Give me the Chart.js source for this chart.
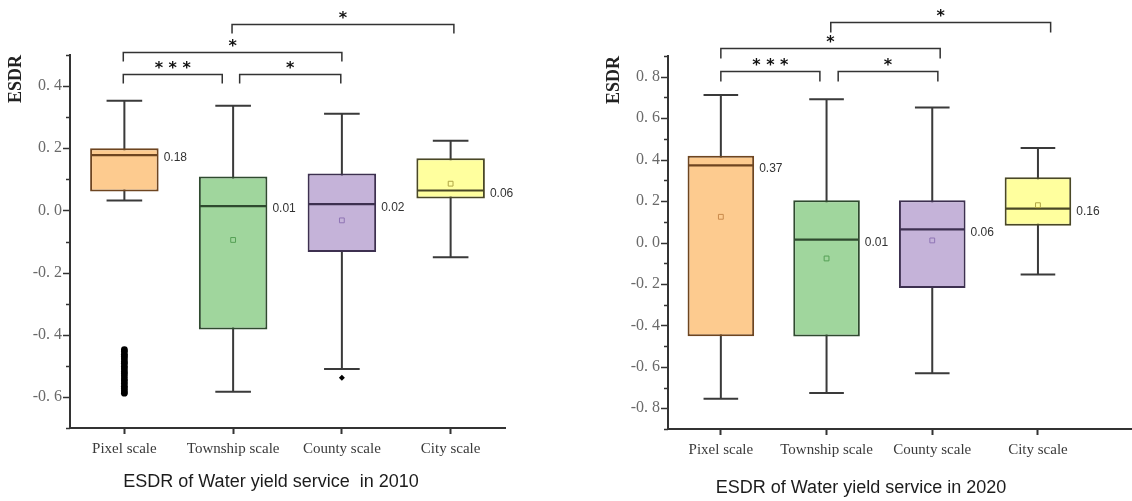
<!DOCTYPE html>
<html>
<head>
<meta charset="utf-8">
<title>ESDR of Water yield service</title>
<script src="https://cdn.jsdelivr.net/npm/chart.js@4.4.1/dist/chart.umd.min.js"></script>
<style>
  html, body { margin: 0; padding: 0; background: #fff; width: 1132px; height: 501px; overflow: hidden; }
  .panel { position: absolute; top: 0; }
  #p2010 { left: 0; }
  #p2020 { left: 570px; }
</style>
</head>
<body>
<div class="panel" id="p2010"><canvas id="c2010" width="565" height="501"></canvas></div>
<div class="panel" id="p2020"><canvas id="c2020" width="640" height="501"></canvas></div>
<script>
// ---- data ----
const categories = ['Pixel scale', 'Township scale', 'County scale', 'City scale'];

// 2010 box statistics per category
const min2010    = [0.032, -0.583, -0.510, -0.151];
const q1_2010    = [0.061, -0.383, -0.134,  0.038];
const median2010 = [0.178,  0.014,  0.020,  0.064];
const q3_2010    = [0.200,  0.109,  0.119,  0.168];
const max2010    = [0.353,  0.337,  0.311,  0.224];
const mean2010   = [null,  -0.095, -0.032,  0.086];
const pixelOutliers2010  = [-0.448, -0.454, -0.463, -0.469, -0.477, -0.486, -0.492, -0.501, -0.509,
                            -0.518, -0.525, -0.533, -0.542, -0.549, -0.557, -0.566, -0.573, -0.581, -0.588];
const countyOutliers2010 = [-0.538];

// 2020 box statistics per category
const min2020    = [-0.754, -0.726, -0.631, -0.155];
const q1_2020    = [-0.453, -0.454, -0.219,  0.081];
const median2020 = [ 0.372,  0.014,  0.063,  0.163];
const q3_2020    = [ 0.419,  0.204,  0.204,  0.315];
const max2020    = [ 0.712,  0.691,  0.652,  0.456];
const mean2020   = [ 0.124, -0.077,  0.010,  0.180];

// significance comparisons: [from category, to category, stars]
const comparisons = [[0, 1, '***'], [1, 2, '*'], [0, 2, '*'], [1, 3, '*']];

// ---- styling ----
const fills      = ['#FDCB8F', '#A0D69D', '#C5B3D9', '#FFFF9E'];
const edges      = ['#6E4520', '#2F4A2F', '#3D3050', '#4A4826'];
const meanColors = ['#C98A4C', '#55A055', '#8F75B5', '#B0A645'];
const AXIS = '#333333';
const SERIF = '"Liberation Serif", "Times New Roman", serif';
const SANS = '"Liberation Sans", Arial, sans-serif';

function tickLabel(value) {
  const v = Math.round(value * 10);
  if (v % 2 !== 0) return '';
  return (v / 10).toFixed(1).replace('.', '. ');
}

// whiskers behind the boxes, medians + value labels on top of them
function boxPartsPlugin(stats) {
  return {
    id: 'boxParts',
    beforeDatasetsDraw(chart) {
      const { ctx } = chart;
      const y = chart.scales.y;
      const meta = chart.getDatasetMeta(stats.barIndex);
      ctx.save();
      ctx.strokeStyle = '#3a3a3a';
      ctx.lineWidth = 2;
      meta.data.forEach((bar, i) => {
        const x = bar.x;
        const cap = bar.width * 0.26;
        const yMin = y.getPixelForValue(stats.min[i]);
        const yMax = y.getPixelForValue(stats.max[i]);
        ctx.beginPath();
        ctx.moveTo(x, yMin); ctx.lineTo(x, yMax);
        ctx.moveTo(x - cap, yMin); ctx.lineTo(x + cap, yMin);
        ctx.moveTo(x - cap, yMax); ctx.lineTo(x + cap, yMax);
        ctx.stroke();
      });
      ctx.restore();
    },
    afterDatasetDraw(chart, args) {
      if (args.index !== stats.barIndex) return;
      const { ctx } = chart;
      const y = chart.scales.y;
      ctx.save();
      args.meta.data.forEach((bar, i) => {
        const half = bar.width / 2;
        const ym = y.getPixelForValue(stats.median[i]);
        ctx.strokeStyle = edges[i];
        ctx.lineWidth = 2.2;
        ctx.beginPath();
        ctx.moveTo(bar.x - half + 1, ym);
        ctx.lineTo(bar.x + half - 1, ym);
        ctx.stroke();
        ctx.fillStyle = '#333';
        ctx.font = '12px "Liberation Sans Narrow", ' + SANS;
        ctx.textAlign = 'left';
        ctx.textBaseline = 'middle';
        ctx.fillText(stats.median[i].toFixed(2), bar.x + half + 5, ym + 3);
      });
      ctx.restore();
    }
  };
}

// major / minor tick marks on the value axis
const yTickMarks = {
  id: 'yTickMarks',
  afterDraw(chart) {
    const { ctx, chartArea } = chart;
    const y = chart.scales.y;
    ctx.save();
    ctx.strokeStyle = AXIS;
    ctx.lineWidth = 1.5;
    y.ticks.forEach(t => {
      const py = Math.round(y.getPixelForValue(t.value)) + 0.5;
      const len = Math.round(t.value * 10) % 2 === 0 ? 7 : 4;
      ctx.beginPath();
      ctx.moveTo(chartArea.left - len, py);
      ctx.lineTo(chartArea.left, py);
      ctx.stroke();
    });
    ctx.restore();
  }
};

// significance brackets above the boxes
function bracketPlugin(levels, ends, legLength) {
  return {
    id: 'brackets',
    afterDraw(chart) {
      const { ctx } = chart;
      const x = chart.scales.x, y = chart.scales.y;
      ctx.save();
      comparisons.forEach(([a, b, stars], k) => {
        const x1 = x.getPixelForValue(a + ends[k][0]);
        const x2 = x.getPixelForValue(b + ends[k][1]);
        const yl = Math.round(y.getPixelForValue(levels[k])) + 0.5;
        ctx.strokeStyle = '#333';
        ctx.lineWidth = 1.5;
        ctx.beginPath();
        ctx.moveTo(x1, yl + legLength); ctx.lineTo(x1, yl);
        ctx.lineTo(x2, yl); ctx.lineTo(x2, yl + legLength);
        ctx.stroke();
        ctx.fillStyle = '#111';
        ctx.font = 'bold 16px "DejaVu Sans", sans-serif';
        ctx.textAlign = 'center';
        ctx.textBaseline = 'alphabetic';
        ctx.fillText(stars.split('').join(' '), (x1 + x2) / 2, yl - 10 + 8.5);
      });
      ctx.restore();
    }
  };
}

function captionPlugin(text, cx, cy) {
  return {
    id: 'caption',
    afterDraw(chart) {
      const { ctx } = chart;
      ctx.save();
      ctx.fillStyle = '#1c1c1c';
      ctx.font = '18px ' + SANS;
      ctx.textAlign = 'center';
      ctx.textBaseline = 'middle';
      ctx.fillText(text, cx, cy);
      ctx.restore();
    }
  };
}

function buildChart(canvasId, s) {
  const datasets = [
    {
      type: 'line', label: 'Mean', order: 1, showLine: false,
      data: s.mean,
      pointStyle: 'rect', pointRadius: 3.4, pointHoverRadius: 3.4,
      pointBackgroundColor: 'rgba(0,0,0,0)', pointBorderColor: meanColors, pointBorderWidth: 1
    },
    {
      type: 'line', label: 'Outliers', order: 2, showLine: false,
      data: s.outliers,
      pointStyle: ctx => (ctx.raw && ctx.raw.x === categories[2]) ? 'rectRot' : 'circle',
      pointRadius: ctx => (ctx.raw && ctx.raw.x === categories[2]) ? 3 : 3.4,
      pointBackgroundColor: '#000', pointBorderColor: '#000', pointBorderWidth: 0
    },
    {
      type: 'bar', label: 'Box', order: 3,
      data: s.q1.map((v, i) => [v, s.q3[i]]),
      backgroundColor: fills, borderColor: edges, borderWidth: 2, borderSkipped: false,
      barPercentage: 0.63, categoryPercentage: 1.0
    }
  ];

  return new Chart(document.getElementById(canvasId), {
    type: 'bar',
    data: { labels: s.labels, datasets },
    options: {
      responsive: false,
      animation: false,
      events: [],
      layout: { padding: { left: 0, top: s.top, right: s.padRight, bottom: 0 } },
      plugins: { legend: { display: false }, tooltip: { enabled: false } },
      scales: {
        x: {
          type: 'category',
          offset: true,
          grid: { display: true, offset: false, drawOnChartArea: false, drawTicks: true,
                  tickLength: 6, tickWidth: 2, tickColor: AXIS },
          border: { display: true, color: AXIS, width: 2 },
          ticks: { color: '#3a3a3a', padding: 6, font: { family: SERIF, size: 15 }, maxRotation: 0, autoSkip: false },
          afterFit: sc => { sc.height = 501 - s.bottomEdge; }
        },
        y: {
          min: s.yMin, max: s.yMax,
          grid: { display: false, drawTicks: false },
          border: { display: true, color: AXIS, width: 2 },
          ticks: { stepSize: 0.1, autoSkip: false, padding: 8, color: '#6a6a6a',
                   font: { family: SERIF, size: 16 }, callback: tickLabel },
          title: { display: true, text: 'ESDR', align: 'end', color: '#222',
                   font: { family: SERIF, size: 18, weight: 'bold' }, padding: { top: s.titlePad, bottom: 0 } },
          afterFit: sc => { sc.width = s.leftEdge; }
        }
      }
    },
    plugins: [
      boxPartsPlugin({ barIndex: 2, min: s.min, max: s.max, median: s.median }),
      yTickMarks,
      bracketPlugin(s.levels, s.ends, s.leg),
      captionPlugin(s.caption, s.captionX, s.captionY)
    ]
  });
}

const outliers2010 = [
  ...pixelOutliers2010.map(v => ({ x: categories[0], y: v })),
  ...countyOutliers2010.map(v => ({ x: categories[2], y: v }))
];

buildChart('c2010', {
  labels: categories,
  min: min2010, q1: q1_2010, median: median2010, q3: q3_2010, max: max2010, mean: mean2010,
  outliers: outliers2010,
  yMin: -0.7, yMax: 0.5,
  top: 55, bottomEdge: 428, leftEdge: 70, padRight: 60, titlePad: 6,
  levels: [0.44, 0.44, 0.51, 0.60],
  ends: [[-0.01, -0.1], [0.06, -0.01], [-0.01, 0.0], [-0.01, 0.03]],
  leg: 9,
  caption: 'ESDR of Water yield service  in 2010', captionX: 271, captionY: 482
});

buildChart('c2020', {
  labels: [...categories, ''],
  min: min2020, q1: q1_2020, median: median2020, q3: q3_2020, max: max2020, mean: mean2020,
  outliers: [],
  yMin: -0.9, yMax: 0.9,
  top: 56, bottomEdge: 429, leftEdge: 98, padRight: 13.5, titlePad: 34,
  levels: [0.83, 0.83, 0.937, 1.065],
  ends: [[0.0, -0.063], [0.11, 0.053], [0.0, 0.075], [0.04, 0.12]],
  leg: 10,
  caption: 'ESDR of Water yield service in 2020', captionX: 291, captionY: 488
});
</script>
</body>
</html>
